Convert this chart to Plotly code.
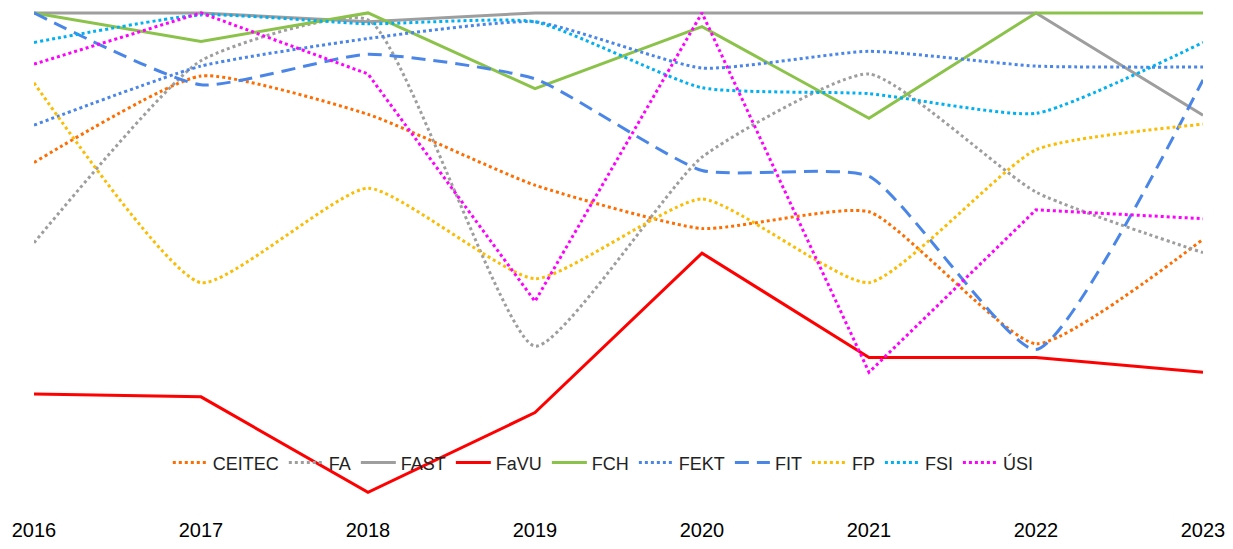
import plotly.graph_objects as go

years = [2016, 2017, 2018, 2019, 2020, 2021, 2022, 2023]

ceitec = [69.6, 87.2, 79.4, 65.0, 56.2, 59.6, 32.8, 54.0]
fa     = [53.3, 90.3, 98.6, 32.3, 70.7, 87.6, 63.6, 51.3]
fast   = [100, 100, 98.2, 100, 100, 100, 100, 79.2]
favu   = [22.6, 22.0, 2.6, 18.8, 51.2, 30.0, 30.0, 27.0]
fch    = [100, 94.2, 100, 84.6, 97.2, 78.6, 100, 100]
fekt   = [77.2, 89.2, 94.8, 98.2, 88.8, 92.2, 89.2, 89.0]
fit    = [100, 85.4, 91.6, 86.6, 68.0, 66.8, 31.6, 86.4]
fp     = [85.8, 45.2, 64.4, 46.0, 62.2, 45.2, 72.2, 77.4]
fsi    = [94.0, 99.6, 97.8, 98.2, 84.8, 83.6, 79.6, 94.0]
usi    = [89.6, 100, 87.6, 41.4, 100, 27.0, 60.0, 58.2]

series = [
    ("CEITEC", ceitec, "#ff6d01", "dot", "spline"),
    ("FA", fa, "#9e9e9e", "dot", "spline"),
    ("FAST", fast, "#9e9e9e", "solid", "linear"),
    ("FaVU", favu, "#ff0000", "solid", "linear"),
    ("FCH", fch, "#8bc34a", "solid", "linear"),
    ("FEKT", fekt, "#4a86e8", "dot", "spline"),
    ("FIT", fit, "#4a86e8", "14px,8px", "spline"),
    ("FP", fp, "#fbbc04", "dot", "spline"),
    ("FSI", fsi, "#00b0f0", "dot", "spline"),
    ("ÚSI", usi, "#ff00ff", "dot", "linear"),
]

fig = go.Figure()
for name, vals, color, dash, shape in series:
    line = dict(color=color, width=3, dash=dash, shape=shape)
    if shape == "spline":
        line["smoothing"] = 0.5
    fig.add_trace(go.Scatter(x=years, y=vals, name=name, mode="lines", line=line))

fig.update_layout(
    width=1233, height=549,
    margin=dict(l=34, r=26, t=8, b=26),
    paper_bgcolor="white", plot_bgcolor="white",
    font=dict(family="Liberation Sans, Arial, sans-serif", color="#222222"),
    showlegend=True,
    legend=dict(orientation="h", x=0.487, xanchor="center", y=0.103, yanchor="middle",
                bgcolor="rgba(0,0,0,0)", font=dict(size=18, color="#222222"),
                itemwidth=35),
    xaxis=dict(range=[2016, 2023], tickvals=years, ticktext=[str(y) for y in years],
               showgrid=False, zeroline=False, showline=False, ticks="",
               ticklabelstandoff=1,
               tickfont=dict(size=20, color="#000000")),
    yaxis=dict(range=[-2, 101], visible=False, showgrid=False, zeroline=False),
)

fig.write_html(
    "out.html",
    config={"displayModeBar": False},
    post_script="document.documentElement.style.overflow='hidden';"
                "document.body.style.margin='0';document.body.style.overflow='hidden';",
)
